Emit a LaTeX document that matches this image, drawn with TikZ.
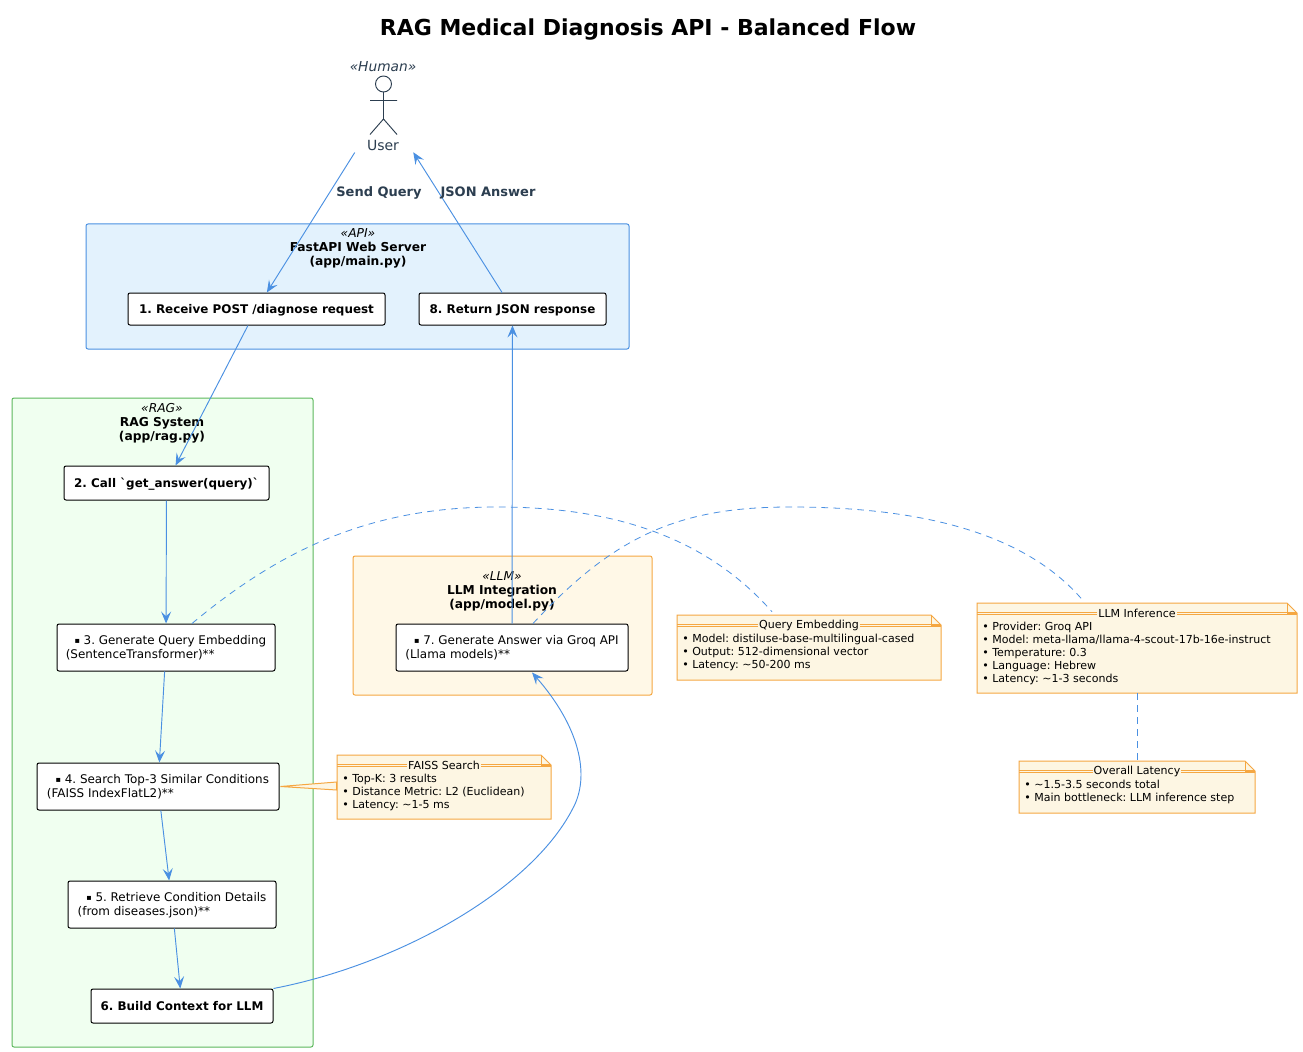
\documentclass[tikz,border=0pt]{standalone}
\usepackage{fontspec}
\newfontfamily\djv{DejaVu Sans}
\frenchspacing
\usetikzlibrary{arrows.meta,calc}
\definecolor{flow}{HTML}{4A90E2}
\definecolor{apifill}{HTML}{E3F2FD}
\definecolor{ragfill}{HTML}{F0FFF0}
\definecolor{raged}{HTML}{5CB85C}
\definecolor{llmfill}{HTML}{FFF8E7}
\definecolor{orangeed}{HTML}{F5A742}
\definecolor{notefill}{HTML}{FDF6E3}
\definecolor{slate}{HTML}{2C3E50}
\newcommand\bodyfont{\fontsize{8.95pt}{10.5pt}\selectfont}
\newcommand\clfont{\fontsize{9.2pt}{10.5pt}\selectfont}
\newcommand\notefont{\fontsize{8.28pt}{9.75pt}\selectfont}
\newcommand\sq{{\fontsize{6pt}{6pt}\selectfont\raisebox{0.8pt}{▪}}}
\tikzset{
  px/.style={x=0.75pt,y=-0.75pt},
  cluster/.style={draw=#1,line width=0.75pt,rounded corners=1.5pt,inner sep=0pt},
  stepbox/.style={draw=black,fill=white,line width=0.75pt,rounded corners=1.5pt,inner sep=0pt,align=left,font=\djv\bodyfont,text=black,text depth=1pt},
  boldbox/.style={stepbox,font=\djv\bfseries\bodyfont,text depth=0pt},
  flowline/.style={draw=flow,line width=0.7pt,-{Stealth[length=9pt,width=7.5pt,inset=3.6pt]}},
  dashline/.style={draw=flow,line width=0.6pt,dash pattern=on 5pt off 4pt},
  clabel/.style={align=center,font=\djv\clfont,inner sep=0pt,text=black},
  elabel/.style={font=\djv\bfseries\fontsize{9.75pt}{11pt}\selectfont,text=slate,inner sep=0pt},
  notestroke/.style={draw=orangeed,line width=0.75pt,fill=notefill},
  notebody/.style={inner sep=0pt,align=left,font=\djv\notefont,text=black},
}
% name, x1, y1, x2, y2, extra style, text
\newcommand\pxbox[7]{\node[#6,minimum width={(#4-#2)*0.75pt},minimum height={(#5-#3)*0.75pt}] (#1) at ({(#2+#4)/2},{(#3+#5)/2}) {#7};}
% name, x1, y1, x2, y2, title, lines
\newcommand\notebox[7]{
  \path[notestroke] (#2,#3) -- ({#4-10},#3) -- (#4,{#3+10}) -- (#4,#5) -- (#2,#5) -- cycle;
  \node[minimum width={(#4-#2)*0.75pt},minimum height={(#5-#3)*0.75pt},inner sep=0pt] (#1) at ({(#2+#4)/2},{(#3+#5)/2}) {};
  \draw[orangeed,line width=0.75pt] ({#4-10},#3) -- ({#4-10},{#3+10}) -- (#4,{#3+10});
  \draw[orangeed,line width=0.6pt] (#2,{#3+9}) -- (#4,{#3+9}) (#2,{#3+11}) -- (#4,{#3+11});
  \node[notebody,fill=notefill,inner xsep=0.75pt,inner ysep=0pt] (#1t) at ({(#2+#4)/2},{#3+10}) {#6};
  \node[notebody,anchor=north west] (#1b) at ({#2+5},{#3+19}) {#7};
}
\begin{document}
\begin{tikzpicture}[px]
\useasboundingbox (0,0) rectangle (1303,1052);
\fill[white] (0,0) rectangle (1303,1052);
\node[font=\djv\bfseries\fontsize{16.5pt}{18pt}\selectfont,inner sep=0pt] (title) at (648,30) {RAG Medical Diagnosis API - Balanced Flow};

% clusters
\pxbox{api}{86}{224}{629}{349}{cluster=flow,fill=apifill}{}
\pxbox{rag}{12}{398}{313}{1047}{cluster=raged,fill=ragfill}{}
\pxbox{llm}{353}{556}{652}{695}{cluster=orangeed,fill=llmfill}{}
\node[clabel] (apil) at (358,248) {\itshape «API»\\\bfseries FastAPI Web Server\\\bfseries (app/main.py)};
\node[clabel] (ragl) at (162,423) {\itshape «RAG»\\\bfseries RAG System\\\bfseries (app/rag.py)};
\node[clabel] (llml) at (502,591) {\itshape «LLM»\\\bfseries LLM Integration\\\bfseries (app/model.py)};

% actor
\node[inner sep=0pt,minimum width=43.5pt,minimum height=71pt] (user) at (384,106) {};
\node[font=\djv\itshape\fontsize{10.3pt}{12pt}\selectfont,text=slate,inner sep=0pt] (human) at (383,67) {«Human»};
\node[font=\djv\fontsize{10.5pt}{12pt}\selectfont,text=slate,inner sep=0pt] (userl) at (383,145) {User};
\draw[slate,line width=0.7pt] (383.5,84) circle (8) (383.5,92) -- (383.5,119) (370,100.5) -- (397,100.5) (370,134.5) -- (383.5,119) -- (397,134.5);

% steps
\pxbox{n1}{128}{293}{385}{325}{boldbox}{1. Receive POST /diagnose request}
\pxbox{n8}{419}{293}{606}{325}{boldbox}{8. Return JSON response}
\pxbox{n2}{64}{466}{269}{500}{boldbox}{2. Call \symbol{96}get\_answer(query)\symbol{96}}
\pxbox{n3}{57}{624}{275}{671}{stepbox}{\hspace*{6.5pt}\sq{} 3. Generate Query Embedding\\(SentenceTransformer)**}
\pxbox{n4}{37}{763}{279}{810}{stepbox}{\hspace*{6.5pt}\sq{} 4. Search Top-3 Similar Conditions\\(FAISS IndexFlatL2)**}
\pxbox{n5}{68}{881}{276}{928}{stepbox}{\hspace*{6.5pt}\sq{} 5. Retrieve Condition Details\\(from diseases.json)**}
\pxbox{n6}{91}{989}{273}{1023}{boldbox}{6. Build Context for LLM}
\pxbox{n7}{396}{624}{628}{671}{stepbox}{\hspace*{6.5pt}\sq{} 7. Generate Answer via Groq API\\(Llama models)**}

% notes
\notebox{qnote}{677}{615}{941}{680}{Query Embedding}{• Model: distiluse-base-multilingual-cased\\• Output: 512-dimensional vector\\• Latency: \textasciitilde50-200 ms}
\notebox{lnote}{977}{603}{1297}{693}{LLM Inference}{• Provider: Groq API\\• Model: meta-llama/llama-4-scout-17b-16e-instruct\\• Temperature: 0.3\\• Language: Hebrew\\• Latency: \textasciitilde1-3 seconds}
\notebox{onote}{1019}{761}{1255}{813}{Overall Latency}{• \textasciitilde1.5-3.5 seconds total\\• Main bottleneck: LLM inference step}
\notebox{fnote}{337}{755}{551}{819}{FAISS Search}{• Top-K: 3 results\\• Distance Metric: L2 (Euclidean)\\• Latency: \textasciitilde1-5 ms}
\path[notestroke] (n4.east) ++(1,0) -- ($(fnote.west)+(0,-5)$) -- ($(fnote.west)+(0,3)$) -- cycle;

% connectors
\draw[flowline] (user) -- (n1);
\draw[flowline] (n8) -- (user);
\draw[flowline] (n1) -- (n2);
\draw[flowline] (n2) -- (n3);
\draw[flowline] (n3) -- (n4);
\draw[flowline] (n4) -- (n5);
\draw[flowline] (n5) -- (n6);
\draw[flowline] (n7) -- (n8);
\draw[flowline] (n6.north east) .. controls (400,964) and (530,890) .. (572,810) .. controls (592,775) and (578,725) .. ($(n7.south)+(20,1)$);
\draw[dashline] ($(n3.north)+(26,0)$) .. controls (280,550) and (370,507) .. (497,507) .. controls (600,507) and (700,530) .. ($(qnote.north)+(-37,-3)$);
\draw[dashline] ($(n7.north)+(21,0)$) .. controls (615,535) and (680,507) .. (790,507) .. controls (900,507) and (1020,525) .. ($(lnote.north)+(-53,-1)$);
\draw[dashline] (lnote.south) -- (onote.north);

\node[elabel] (sq) at (379,192.5) {Send Query};
\node[elabel] (ja) at (488,192.5) {JSON Answer};
\end{tikzpicture}
\end{document}
